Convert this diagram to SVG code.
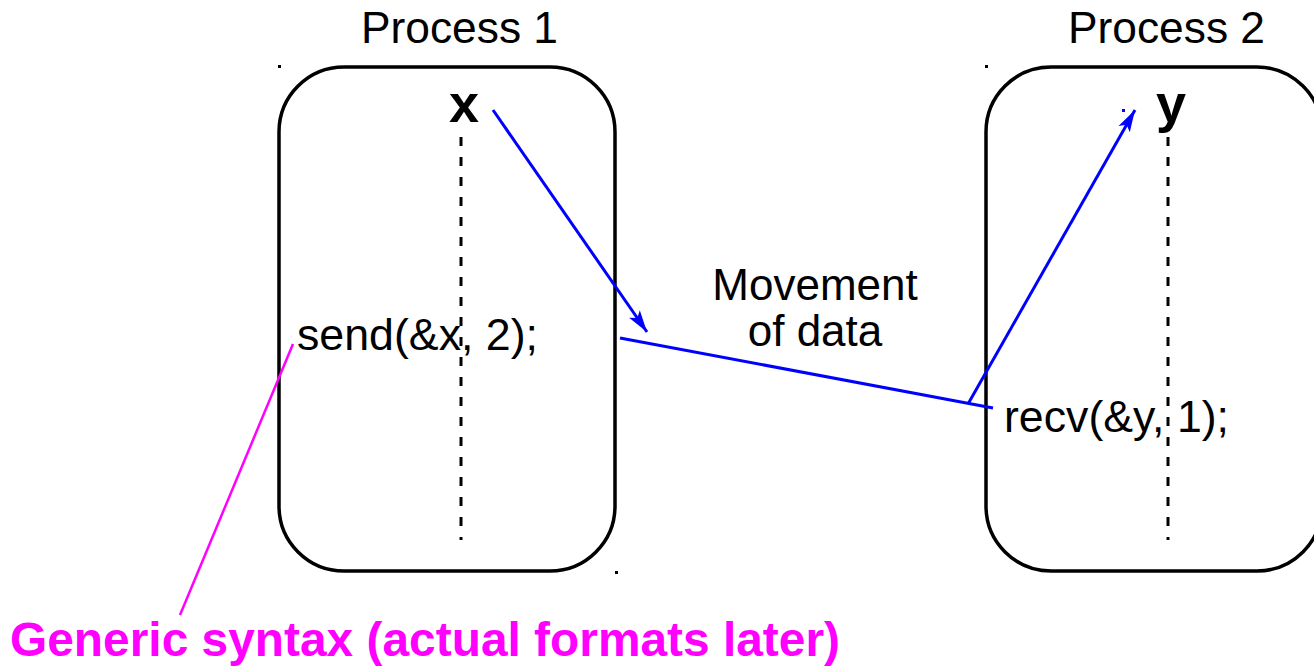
<svg xmlns="http://www.w3.org/2000/svg" width="1314" height="666" viewBox="0 0 1314 666">
<style>
.box{fill:none;stroke:#000;stroke-width:3.5}
.life{stroke:#000;stroke-width:3;stroke-dasharray:9 11}
.t{font-family:"Liberation Sans",Arial,sans-serif;font-size:44px;fill:#000}
.v{font-family:"Liberation Sans",Arial,sans-serif;font-size:54px;font-weight:bold;fill:#000}
.blue{stroke:#0000FF;stroke-width:3;fill:none}
.mag{stroke:#FF00FF;stroke-width:2.5;fill:none}
.note{font-family:"Liberation Sans",Arial,sans-serif;font-size:48px;font-weight:bold;fill:#FF00FF}
.dot{fill:#000}
</style>
<defs>
<marker id="ah" markerUnits="userSpaceOnUse" markerWidth="24" markerHeight="16" refX="22" refY="8" orient="auto">
<path d="M0,1.5 L22,8 L0,14.5 L5,8 z" fill="#0000FF"/>
</marker>
</defs>
<g id="process1">
<text class="t" x="361" y="43" textLength="197" lengthAdjust="spacingAndGlyphs">Process 1</text>
<rect class="box" x="279" y="67" width="336" height="504" rx="65" ry="65"/>
<rect class="dot" x="278" y="65" width="3" height="3"/>
<rect class="dot" x="615" y="571" width="3" height="3"/>
<line class="life" x1="461" y1="137" x2="461" y2="540"/>
<text class="v" x="449" y="122">x</text>
<text class="t" x="297" y="350" textLength="241" lengthAdjust="spacingAndGlyphs">send(&amp;x, 2);</text>
</g>
<g id="process2">
<text class="t" x="1068" y="43" textLength="197" lengthAdjust="spacingAndGlyphs">Process 2</text>
<rect class="box" x="986" y="67" width="336" height="504" rx="65" ry="65"/>
<rect class="dot" x="985" y="65" width="3" height="3"/>
<line class="life" x1="1168" y1="137" x2="1168" y2="540"/>
<text class="v" x="1156" y="122">y</text>
<text class="t" x="1004" y="432" textLength="225" lengthAdjust="spacingAndGlyphs">recv(&amp;y, 1);</text>
</g>
<g id="label-movement">
<text class="t" x="815" y="300" text-anchor="middle">Movement</text>
<text class="t" x="815" y="346" text-anchor="middle">of data</text>
</g>
<g id="note">
<text class="note" x="10" y="656" textLength="830" lengthAdjust="spacingAndGlyphs">Generic syntax (actual formats later)</text>
</g>
<g id="connectors">
<line class="blue" x1="493" y1="110" x2="647" y2="332" marker-end="url(#ah)"/>
<line class="blue" x1="620" y1="338" x2="993" y2="408"/>
<line class="blue" x1="968" y1="404" x2="1135" y2="110" marker-end="url(#ah)"/>
<rect x="1122" y="109" width="3" height="3" fill="#0000FF"/>
<line class="mag" x1="293" y1="344" x2="180" y2="615"/>
</g>
</svg>
